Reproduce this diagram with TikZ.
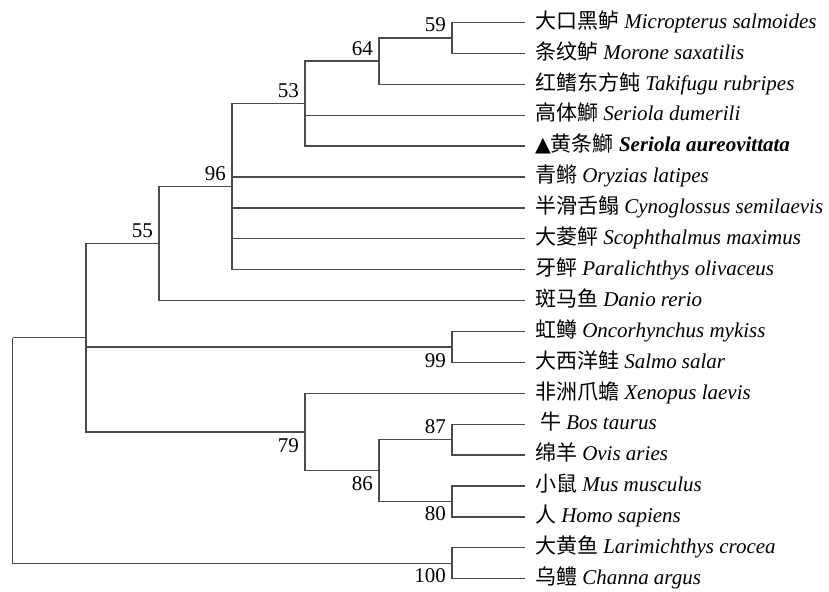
\documentclass[tikz,border=0pt]{standalone}
\usepackage{fontspec}
\setmainfont{Liberation Serif}
\newfontfamily\cjk{Noto Sans CJK SC}
\newfontfamily\symf{DejaVu Sans}
\definecolor{linec}{RGB}{75,75,75}
\begin{document}
\begin{tikzpicture}[x=1bp,y=-1bp,
  every node/.style={font=\fontsize{21bp}{25bp}\selectfont},
  leaf/.style={anchor=west, inner xsep=10bp, inner ysep=0pt, outer sep=0pt, text height=15.5bp, text depth=4bp},
  br/.style={draw=linec, line width=1.3bp},
  bsup/.style={anchor=base east, inner sep=0pt},
]
\useasboundingbox (0,0) rectangle (829,592);
% internal nodes
\coordinate (root) at (12.5,337.8);
\coordinate (nA) at (86,337.8);
\coordinate (n55) at (159,243.6);
\coordinate (n96) at (232,186.7);
\coordinate (n53) at (305,103.6);
\coordinate (n64) at (379,61.1);
\coordinate (n59) at (452,38);
\coordinate (n99) at (452,347);
\coordinate (n79) at (305,431.9);
\coordinate (n86) at (379,470.5);
\coordinate (n87) at (452,439.6);
\coordinate (n80) at (452,501.4);
\coordinate (n100) at (452,563.2);
% leaves
\node[leaf] (t0) at (525,22.5) {{\cjk 大口黑鲈} \textit{Micropterus salmoides}};
\node[leaf] (t1) at (525,53.4) {{\cjk 条纹鲈} \textit{Morone saxatilis}};
\node[leaf] (t2) at (525,84.3) {{\cjk 红鳍东方鲀} \textit{Takifugu rubripes}};
\node[leaf] (t3) at (525,115.2) {{\cjk 高体鰤} \textit{Seriola dumerili}};
\node[leaf] (t4) at (525,146.1) {{\symf\fontsize{20.5bp}{22bp}\selectfont ▲}{\cjk 黄条鰤} \textbf{\textit{Seriola aureovittata}}};
\node[leaf] (t5) at (525,177.0) {{\cjk 青鳉} \textit{Oryzias latipes}};
\node[leaf] (t6) at (525,207.9) {{\cjk 半滑舌鳎} \textit{Cynoglossus semilaevis}};
\node[leaf] (t7) at (525,238.8) {{\cjk 大菱鲆} \textit{Scophthalmus maximus}};
\node[leaf] (t8) at (525,269.7) {{\cjk 牙鲆} \textit{Paralichthys olivaceus}};
\node[leaf] (t9) at (525,300.6) {{\cjk 斑马鱼} \textit{Danio rerio}};
\node[leaf] (t10) at (525,331.5) {{\cjk 虹鳟} \textit{Oncorhynchus mykiss}};
\node[leaf] (t11) at (525,362.4) {{\cjk 大西洋鲑} \textit{Salmo salar}};
\node[leaf] (t12) at (525,393.3) {{\cjk 非洲爪蟾} \textit{Xenopus laevis}};
\node[leaf] (t13) at (525,424.2) {\hspace{5bp}{\cjk 牛} \textit{Bos taurus}};
\node[leaf] (t14) at (525,455.1) {{\cjk 绵羊} \textit{Ovis aries}};
\node[leaf] (t15) at (525,486.0) {{\cjk 小鼠} \textit{Mus musculus}};
\node[leaf] (t16) at (525,516.9) {{\cjk 人} \textit{Homo sapiens}};
\node[leaf] (t17) at (525,547.8) {{\cjk 大黄鱼} \textit{Larimichthys crocea}};
\node[leaf] (t18) at (525,578.7) {{\cjk 乌鳢} \textit{Channa argus}};
% branches
\draw[br] (root) |- (nA);
\draw[br] (root) |- (n100);
\draw[br] (nA) |- (n55);
\draw[br] (nA) |- (n99);
\draw[br] (nA) |- (n79);
\draw[br] (n55) |- (n96);
\draw[br] (n55) |- (t9.west);
\draw[br] (n96) |- (n53);
\draw[br] (n96) |- (t5.west);
\draw[br] (n96) |- (t6.west);
\draw[br] (n96) |- (t7.west);
\draw[br] (n96) |- (t8.west);
\draw[br] (n53) |- (n64);
\draw[br] (n53) |- (t3.west);
\draw[br] (n53) |- (t4.west);
\draw[br] (n64) |- (n59);
\draw[br] (n64) |- (t2.west);
\draw[br] (n59) |- (t0.west);
\draw[br] (n59) |- (t1.west);
\draw[br] (n99) |- (t10.west);
\draw[br] (n99) |- (t11.west);
\draw[br] (n79) |- (t12.west);
\draw[br] (n79) |- (n86);
\draw[br] (n86) |- (n87);
\draw[br] (n86) |- (n80);
\draw[br] (n87) |- (t13.west);
\draw[br] (n87) |- (t14.west);
\draw[br] (n80) |- (t15.west);
\draw[br] (n80) |- (t16.west);
\draw[br] (n100) |- (t17.west);
\draw[br] (n100) |- (t18.west);
% support values
\node[bsup] (b59) at ([shift={(-6,-6)}]n59) {59};
\node[bsup] (b64) at ([shift={(-6,-6)}]n64) {64};
\node[bsup] (b53) at ([shift={(-6,-6)}]n53) {53};
\node[bsup] (b96) at ([shift={(-6,-6)}]n96) {96};
\node[bsup] (b55) at ([shift={(-6,-6)}]n55) {55};
\node[bsup] (b87) at ([shift={(-6,-6)}]n87) {87};
\node[bsup] (b99) at ([shift={(-6,20)}]n99) {99};
\node[bsup] (b79) at ([shift={(-6,20.5)}]n79) {79};
\node[bsup] (b86) at ([shift={(-6,20)}]n86) {86};
\node[bsup] (b80) at ([shift={(-6,19.5)}]n80) {80};
\node[bsup] (b100) at ([shift={(-6,19)}]n100) {100};
\end{tikzpicture}
\end{document}
